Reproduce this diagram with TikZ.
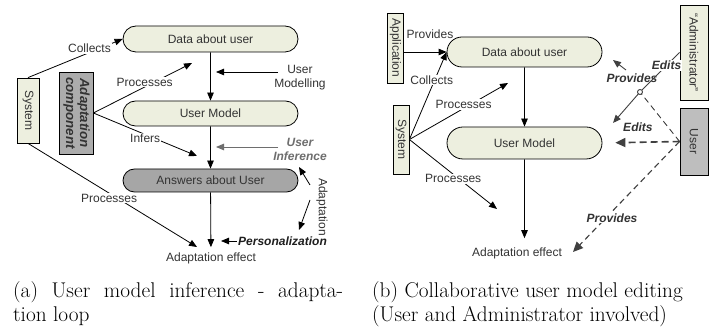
\documentclass[tikz,border=0pt]{standalone}
\usepackage{fontspec}
\setsansfont{Liberation Sans}
\usetikzlibrary{arrows.meta,shapes.misc}

\definecolor{beige}{RGB}{237,239,223}
\definecolor{midgray}{RGB}{166,166,166}
\definecolor{boxgray}{RGB}{172,172,172}
\definecolor{usergray}{RGB}{190,190,190}
\definecolor{ink}{RGB}{51,51,51}
\definecolor{softink}{RGB}{110,110,110}
\definecolor{linkgray}{RGB}{64,64,64}

\newcommand\figfont{\sffamily\fontsize{12}{14}\selectfont}

\begin{document}
\begin{tikzpicture}[x=1pt,y=-1pt,
  every node/.style={inner sep=1pt},
  lbl/.style={font=\figfont, text=ink},
  bilbl/.style={font=\figfont\bfseries\itshape, text=ink},
  pill/.style={rounded rectangle, draw=black, line width=0.8pt, fill=beige,
    minimum width=175pt, minimum height=26pt, font=\figfont, text=ink, inner sep=0pt},
  boxnode/.style={draw=black, line width=0.8pt, inner sep=0pt, font=\figfont, text=ink},
  link/.style={draw=black, line width=0.8pt},
  softlink/.style={draw=softink, line width=0.9pt},
  darklink/.style={draw=linkgray, line width=0.9pt},
  arr/.style={-{Triangle[length=8pt,width=6.5pt]}},
  bigarr/.style={-{Triangle[length=10pt,width=9pt]}},
  captext/.style={font=\rmfamily\fontsize{21.3}{23}\selectfont, inner sep=0pt}]

\useasboundingbox (0,0) rectangle (716,328);
\fill[white] (0,0) rectangle (716,328);

% ---------- (a) inference - adaptation loop ----------
\node[pill, minimum height=26pt] (data) at (210.5,39) {Data about user};
\node[pill, minimum height=25pt] (model) at (210.5,113.5) {User Model};
\node[pill, fill=midgray, minimum height=23pt] (answers) at (210.5,180.5) {Answers about User};
\node[lbl] (effect) at (211,258) {Adaptation effect};

\node[boxnode, fill=beige, minimum width=22pt, minimum height=65pt] (system) at (28,110.5)
  {\rotatebox{-90}{System}};
\node[boxnode, fill=boxgray, minimum width=34pt, minimum height=82pt,
  font=\sffamily\bfseries\itshape\fontsize{13.3}{14}\selectfont] (adapt) at (76,113)
  {\raisebox{4pt}{\rotatebox{-90}{\begin{tabular}{@{}c@{}}Adaptation\\component\end{tabular}}}};

\coordinate (procA) at (192,63);
\coordinate (infA) at (197,156);
\coordinate (procA2) at (197,247);

\draw[link,arr] (system.north) -- node[lbl, fill=white, pos=0.65, yshift=4] (collectsA) {Collects} (data.west);
\draw[link,arr] (adapt.east) -- node[lbl, fill=white, pos=0.52, yshift=5] (processesA) {Processes} (procA);
\draw[link,arr] (adapt.east) -- node[lbl, fill=white, pos=0.5, yshift=-4] (infersA) {Infers} (infA);
\draw[link,arr] (system.south) -- node[lbl, fill=white, pos=0.48, yshift=-5] (processesA2) {Processes} (procA2);

\draw[link,arr] (data) -- (model);
\draw[link,arr] (model) -- (answers);
\draw[link,arr,shorten >=4pt] (answers) -- (effect);

% side annotations of the loop
\node[lbl, align=center] (modelling) at (300,78) {User\\Modelling};
\coordinate (modTail) at (278,72);
\coordinate (modTip) at (216,72);
\draw[link,arr] (modTail) -- (modTip);

\node[bilbl, text=softink, align=center] (inference) at (300,149.5) {User\\Inference};
\coordinate (infTail) at (278,147);
\coordinate (infTip) at (216,147);
\draw[softlink,arr] (infTail) -- (infTip);

\node[lbl] (adaptation) at (322,207) {\rotatebox{-90}{Adaptation}};
\coordinate (adUpTail) at (310,185);
\coordinate (adUpTip) at (299,167);
\coordinate (adDnTail) at (310,200);
\coordinate (adDnTip) at (299,230);
\draw[link,arr] (adUpTail) -- (adUpTip);
\draw[link,arr] (adDnTail) -- (adDnTip);

\node[bilbl, text=black!88] (personal) at (282.5,241) {Personalization};
\coordinate (persTip) at (221,241);
\draw[link,arr] (personal.west) -- (persTip);

% ---------- (b) collaborative editing ----------
\node[boxnode, fill=beige, minimum width=16pt, minimum height=70pt] (app) at (395.5,48)
  {\rotatebox{-90}{Application}};
\node[pill, minimum width=155pt, minimum height=30pt] (dataB) at (524.5,52) {Data about user};
\node[pill, minimum width=155pt, minimum height=32pt] (modelB) at (524.5,143) {User Model};
\node[boxnode, fill=beige, minimum width=16pt, minimum height=69pt] (sysB) at (401,139.5)
  {\rotatebox{-90}{System}};
\node[lbl] (effectB) at (517,253) {Adaptation effect};
\node[boxnode, fill=beige, minimum width=28pt, minimum height=95pt] (admin) at (694,52.5)
  {\rotatebox{-90}{“Administrator”}};
\node[boxnode, fill=usergray, minimum width=28pt, minimum height=67pt] (user) at (694,141.5)
  {\rotatebox{-90}{User}};

\draw[link,arr] (app.east |- dataB.west) -- node[lbl, pos=0.61, yshift=18] (providesB) {Provides} (dataB.west);

\coordinate (procB1) at (508,83);
\coordinate (procB2) at (497,209);
\draw[link,arr] (sysB.east) -- node[lbl, fill=white, pos=0.68, xshift=-3] (collectsB) {Collects} (dataB.west);
\draw[link,arr] (sysB.east) -- node[lbl, fill=white, pos=0.55, yshift=4] (processesB1) {Processes} (procB1);
\draw[link,arr] (sysB.east) -- node[lbl, fill=white, pos=0.5, yshift=-4.5] (processesB2) {Processes} (procB2);

\draw[link,arr] (dataB) -- (modelB);
\draw[link,arr,shorten >=8pt] (modelB) -- (modelB.south |- effectB.north);

% administrator and user links
\coordinate (hop) at (640,92);
\coordinate (editTip) at (613,123);
\coordinate (provTail) at (626,70);
\coordinate (provTip) at (613,60);
\coordinate (provBTip) at (573,252);

\node[bilbl] (provAdmin) at (632,78) {Provides};
\draw[darklink,arr] (provTail) -- (provTip);
\draw[darklink] (admin.west) -- node[bilbl, fill=white, pos=0.33] (editsAdmin) {Edits} (hop);
\draw[darklink,arr] (hop) -- (editTip);
\draw[darklink, dash pattern=on 6pt off 4pt] (user.west) -- (hop);
\draw[darklink, fill=white] (hop) circle (2.5pt);
\draw[darklink, line width=1.6pt, dash pattern=on 7pt off 4pt, bigarr, shorten >=13pt]
  (user.west) -- node[bilbl, pos=0.54, yshift=15] (editsUser) {Edits} (modelB.east);
\draw[darklink, dash pattern=on 6pt off 4pt, line width=1.1pt, bigarr]
  (user.west) -- node[bilbl, fill=white, pos=0.69, xshift=6] (providesUser) {Provides} (provBTip);

% ---------- captions ----------
\node[captext, anchor=base west] (capA1) at (13,298) {\makebox[330pt][s]{(a) User model inference - adapta-}};
\node[captext, anchor=base west] (capA2) at (13,321.5) {tion loop};
\node[captext, anchor=base west] (capB1) at (372,298) {(b) Collaborative user model editing};
\node[captext, anchor=base west] (capB2) at (372,321.5) {(User and Administrator involved)};
\end{tikzpicture}
\end{document}
